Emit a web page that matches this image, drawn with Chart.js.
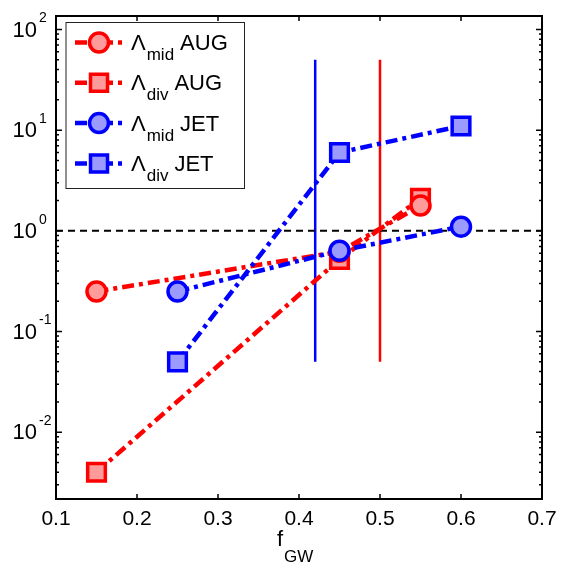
<!DOCTYPE html>
<html>
  <head>
    <title>Lambda vs fGW</title>
    <meta http-equiv="Content-Type" content="text/html;charset=utf-8" />
    <script src="https://cdn.jsdelivr.net/npm/chart.js@4.4.1/dist/chart.umd.min.js"></script>
    <style>
      body { margin: 0; background: #fff; }
    </style>
    <script>
      // values
      var fgwAug = [0.15, 0.45, 0.55];
      var lambdaMidAug = [0.25, 0.62, 1.78];
      var lambdaDivAug = [0.004, 0.52, 2.1];

      var fgwJet = [0.25, 0.45, 0.6];
      var lambdaMidJet = [0.25, 0.635, 1.1];
      var lambdaDivJet = [0.05, 6, 11];

      // density limit markers (vertical lines) and the Lambda = 1 line
      var limitJet = 0.42;
      var limitAug = 0.5;
      var limitSpan = [0.05, 50];
      var unityLevel = 1;

      var xTicks = [0.1, 0.2, 0.3, 0.4, 0.5, 0.6, 0.7];
      var yExponents = [-2, -1, 0, 1, 2];
      var xRange = [0.1, 0.7];
      var yRange = [0.00217, 136];

      var legendNames = [
        { sub: "mid", name: "AUG" },
        { sub: "div", name: "AUG" },
        { sub: "mid", name: "JET" },
        { sub: "div", name: "JET" },
      ];

      var RED = "rgb(255,0,0)";
      var BLUE = "rgb(0,0,255)";
      var RED_FILL = "rgb(255,155,155)";
      var BLUE_FILL = "rgb(155,155,255)";
      var DASHDOT = [12, 5, 4, 5];
      var FONT = "'Liberation Sans', Arial, sans-serif";

      function pts(xs, ys) {
        return xs.map(function (x, i) {
          return { x: x, y: ys[i] };
        });
      }
    </script>
  </head>
  <body>
    <canvas id="c" width="564" height="572"></canvas>
    <script>
      function series(data, color, fill, style, order) {
        return {
          data: data,
          borderColor: color,
          backgroundColor: fill,
          borderWidth: 4.5,
          borderDash: DASHDOT,
          pointStyle: style,
          pointRadius: style == "circle" ? 9.5 : 12.5,
          pointBorderWidth: 3.5,
          pointBorderColor: color,
          pointBackgroundColor: fill,
          tension: 0,
          order: order,
        };
      }

      function refLine(data, color, width, dash) {
        return {
          data: data,
          borderColor: color,
          borderWidth: width,
          borderDash: dash,
          pointRadius: 0,
          tension: 0,
          order: 10,
        };
      }

      function drawMarker(ctx, style, x, y, color, fill) {
        ctx.save();
        ctx.setLineDash([]);
        ctx.lineWidth = 3.5;
        ctx.strokeStyle = color;
        ctx.fillStyle = fill;
        ctx.beginPath();
        if (style == "circle") {
          ctx.arc(x, y, 9.5, 0, Math.PI * 2);
        } else {
          ctx.rect(x - 8.5, y - 8.5, 17, 17);
        }
        ctx.fill();
        ctx.stroke();
        ctx.restore();
      }

      var framePlugin = {
        id: "frame",
        afterDraw: function (chart) {
          var ctx = chart.ctx;
          var a = chart.chartArea;
          var xs = chart.scales.x;
          var ys = chart.scales.y;
          ctx.save();
          ctx.fillStyle = "#000";
          ctx.strokeStyle = "#000";

          // axes box
          ctx.lineWidth = 2;
          ctx.strokeRect(a.left, a.top, a.right - a.left, a.bottom - a.top);

          // x ticks (inward, top and bottom) and labels
          ctx.lineWidth = 1.5;
          ctx.font = "21px " + FONT;
          ctx.textAlign = "center";
          ctx.textBaseline = "middle";
          xTicks.forEach(function (v) {
            var px = xs.getPixelForValue(v);
            ctx.beginPath();
            ctx.moveTo(px, a.bottom);
            ctx.lineTo(px, a.bottom - 5);
            ctx.moveTo(px, a.top);
            ctx.lineTo(px, a.top + 5);
            ctx.stroke();
            ctx.fillText(v.toFixed(1), px, 519);
          });

          // y ticks: majors and minors on both sides
          for (var e = -3; e <= 2; e++) {
            for (var m = 1; m <= 9; m++) {
              var v = m * Math.pow(10, e);
              if (v < yRange[0] || v > yRange[1]) continue;
              var py = ys.getPixelForValue(v);
              var len = m == 1 ? 6 : 3;
              ctx.beginPath();
              ctx.moveTo(a.left, py);
              ctx.lineTo(a.left + len, py);
              ctx.moveTo(a.right, py);
              ctx.lineTo(a.right - len, py);
              ctx.stroke();
            }
          }

          // y labels 10^n
          yExponents.forEach(function (n) {
            var py = ys.getPixelForValue(Math.pow(10, n));
            ctx.font = "22px " + FONT;
            ctx.textAlign = "right";
            ctx.textBaseline = "middle";
            ctx.fillText("10", 37, py + 1);
            ctx.font = "14px " + FONT;
            ctx.textAlign = "left";
            ctx.fillText(String(n), 39, py - 11);
          });

          // x axis title f_GW
          ctx.textAlign = "left";
          ctx.textBaseline = "alphabetic";
          ctx.font = "22px " + FONT;
          ctx.fillText("f", 277, 546);
          ctx.font = "17px " + FONT;
          ctx.fillText("GW", 284, 562);

          // legend
          ctx.fillStyle = "#fff";
          ctx.fillRect(66, 22.5, 178.5, 166);
          ctx.lineWidth = 1;
          ctx.strokeStyle = "#222";
          ctx.strokeRect(66, 22.5, 178.5, 166);

          var styles = ["circle", "rect", "circle", "rect"];
          var colors = [RED, RED, BLUE, BLUE];
          var fills = [RED_FILL, RED_FILL, BLUE_FILL, BLUE_FILL];
          legendNames.forEach(function (entry, i) {
            var cy = 42.5 + i * 40.3;
            ctx.save();
            ctx.strokeStyle = colors[i];
            ctx.lineWidth = 4.5;
            ctx.setLineDash(DASHDOT);
            ctx.beginPath();
            ctx.moveTo(75, cy);
            ctx.lineTo(126, cy);
            ctx.stroke();
            ctx.restore();
            drawMarker(ctx, styles[i], 99, cy, colors[i], fills[i]);

            var base = cy + 7.5;
            var tx = 131;
            ctx.fillStyle = "#000";
            ctx.font = "22px " + FONT;
            ctx.fillText("\u039B", tx, base);
            tx += ctx.measureText("\u039B").width + 1;
            ctx.font = "17px " + FONT;
            ctx.fillText(entry.sub, tx, base + 10);
            tx += ctx.measureText(entry.sub).width + 6;
            ctx.font = "22px " + FONT;
            ctx.fillText(entry.name, tx, base);
          });

          ctx.restore();
        },
      };

      new Chart(document.getElementById("c").getContext("2d"), {
        type: "line",
        data: {
          datasets: [
            refLine(pts(xRange, [unityLevel, unityLevel]), "#000", 2, [7, 5]),
            refLine(pts([limitJet, limitJet], limitSpan), BLUE, 2.5, []),
            refLine(pts([limitAug, limitAug], limitSpan), RED, 2.5, []),
            series(pts(fgwAug, lambdaDivAug), RED, RED_FILL, "rect", 4),
            series(pts(fgwAug, lambdaMidAug), RED, RED_FILL, "circle", 3),
            series(pts(fgwJet, lambdaDivJet), BLUE, BLUE_FILL, "rect", 2),
            series(pts(fgwJet, lambdaMidJet), BLUE, BLUE_FILL, "circle", 1),
          ],
        },
        options: {
          responsive: false,
          animation: false,
          layout: { padding: { left: 56, top: 13, right: 22, bottom: 73 } },
          plugins: { legend: { display: false }, tooltip: { enabled: false } },
          scales: {
            x: { type: "linear", min: xRange[0], max: xRange[1], display: false },
            y: { type: "logarithmic", min: yRange[0], max: yRange[1], display: false },
          },
        },
        plugins: [framePlugin],
      });
    </script>
  </body>
</html>
